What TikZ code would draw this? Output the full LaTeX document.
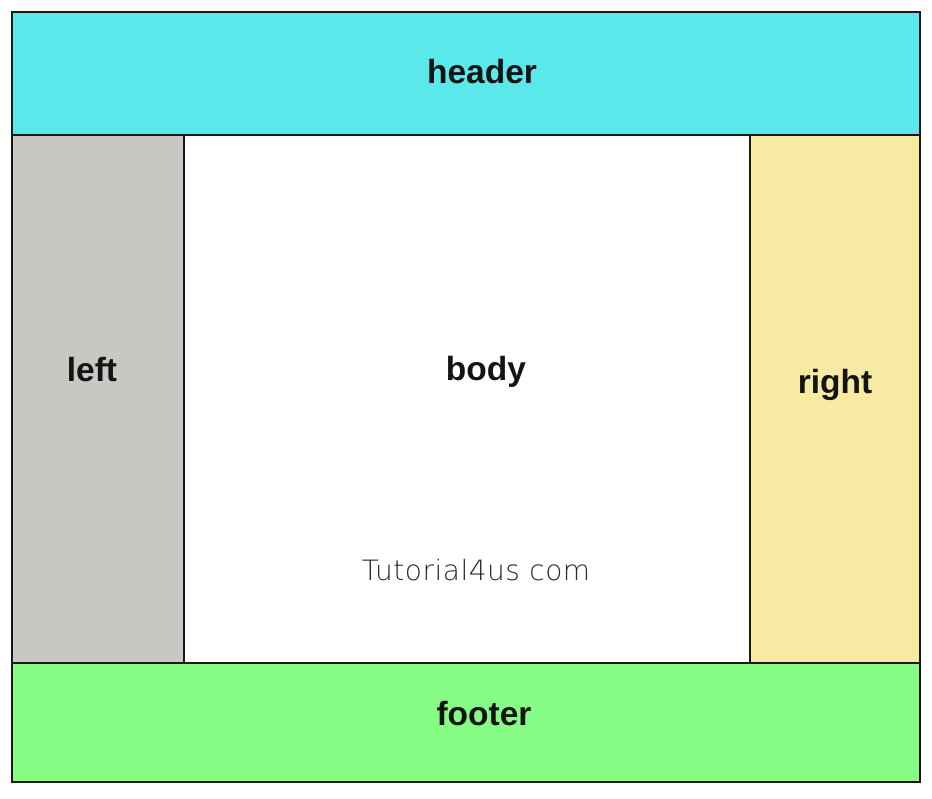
\documentclass[tikz,border=0pt]{standalone}
\usepackage{fontspec}
\setmainfont{Liberation Sans}
\newfontfamily\wmfont[LetterSpace=1.8]{DejaVu Sans ExtraLight}
\definecolor{hdr}{HTML}{5BE8EA}
\definecolor{lft}{HTML}{C8C7C4}
\definecolor{rgt}{HTML}{F7EBA4}
\definecolor{ftr}{HTML}{86FC84}
\definecolor{wm}{HTML}{2E2A2C}
\begin{document}
\begin{tikzpicture}[x=1pt,y=-1pt,
  region/.style={draw=black!90,line width=2.5pt},
  lbl/.style={font=\fontsize{33.5}{38}\selectfont\bfseries,text=black!92,inner sep=0pt},
  wmark/.style={font=\wmfont\fontsize{28}{32}\selectfont,text=wm,inner sep=0pt}]
\useasboundingbox[fill=white] (0,0) rectangle (932,799);
\draw[region,fill=hdr] (12,12) rectangle (920,135);
\draw[region,fill=lft] (12,135) rectangle (184,663);
\draw[region,fill=white] (184,135) rectangle (750,663);
\draw[region,fill=rgt] (750,135) rectangle (920,663);
\draw[region,fill=ftr] (12,663) rectangle (920,782);
\node[lbl] (header) at (482,72) {header};
\node[lbl] (left) at (92,370) {left};
\node[lbl] (body) at (486,372) {body};
\node[lbl] (right) at (835,385) {right};
\node[lbl] (footer) at (484,714) {footer};
\node[wmark] (wm) at (476,570) {Tutorial4us com};
\end{tikzpicture}
\end{document}
